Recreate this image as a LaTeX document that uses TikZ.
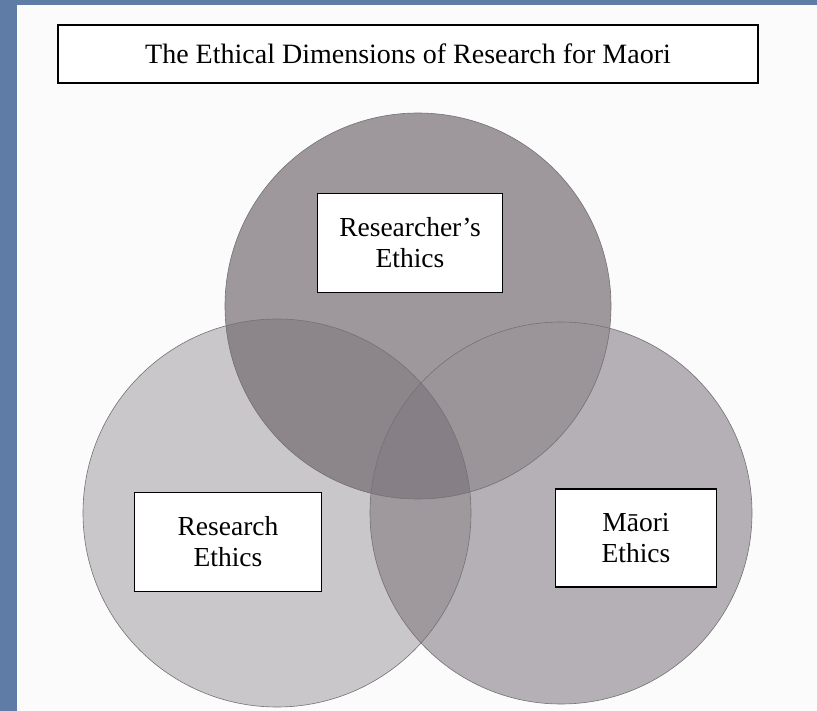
\documentclass[tikz,border=0pt]{standalone}
\usepackage{fontspec}
\setmainfont{Liberation Serif}
\usepackage{xcolor}
\definecolor{frameblue}{HTML}{5E7CA6}
\definecolor{paper}{HTML}{FBFBFC}
\definecolor{topgray}{HTML}{9E989D}
\definecolor{leftgray}{HTML}{CAC7CB}
\definecolor{rightgray}{HTML}{B5B0B5}
\definecolor{topleftgray}{HTML}{8C858A}
\definecolor{toprightgray}{HTML}{9B959A}
\definecolor{lensgray}{HTML}{9F999E}
\definecolor{centergray}{HTML}{867F85}
\usetikzlibrary{positioning}
\tikzset{
    labelbox/.style={draw=black, line width=1.4pt, fill=white, align=center,
        inner sep=0pt, font=\fontsize{27.5}{31}\selectfont},
    ring/.style={draw=black!55, line width=0.6pt}
}

\begin{document}
\begin{tikzpicture}[x=1pt, y=-1pt]

    \useasboundingbox (0, 0) rectangle (817, 711);
    \fill [paper] (0, 0) rectangle (817, 711);
    \fill [frameblue] (0, 0) rectangle (17, 711);
    \fill [frameblue] (0, 0) rectangle (817, 5);

    \coordinate (top) at (418, 306);
    \coordinate (left) at (277, 513);
    \coordinate (right) at (561, 513);

    \fill [leftgray] (left) circle (194pt);
    \fill [rightgray] (right) circle (191pt);
    \fill [topgray] (top) circle (193pt);

    \begin{scope}
        \clip (left) circle (194pt);
        \fill [lensgray] (right) circle (191pt);
        \fill [topleftgray] (top) circle (193pt);
    \end{scope}

    \begin{scope}
        \clip (right) circle (191pt);
        \fill [toprightgray] (top) circle (193pt);
        \clip (left) circle (194pt);
        \fill [centergray] (top) circle (193pt);
    \end{scope}

    \draw [ring] (left) circle (194pt);
    \draw [ring] (right) circle (191pt);
    \draw [ring] (top) circle (193pt);

    \node [draw=black, line width=1.6pt, fill=white, minimum width=700pt,
        minimum height=58pt, font=\fontsize{28}{32}\selectfont]
        (title) at (408, 54) {The Ethical Dimensions of Research for Maori};

    \node [labelbox, minimum width=185pt, minimum height=99pt]
        (researcher) at (410, 243) {Researcher's\\Ethics};

    \node [labelbox, minimum width=187pt, minimum height=99pt]
        (research) at (228, 542) {Research\\Ethics};

    \node [labelbox, minimum width=161pt, minimum height=98pt]
        (maori) at (636, 538) {Māori\\Ethics};

\end{tikzpicture}
\end{document}
